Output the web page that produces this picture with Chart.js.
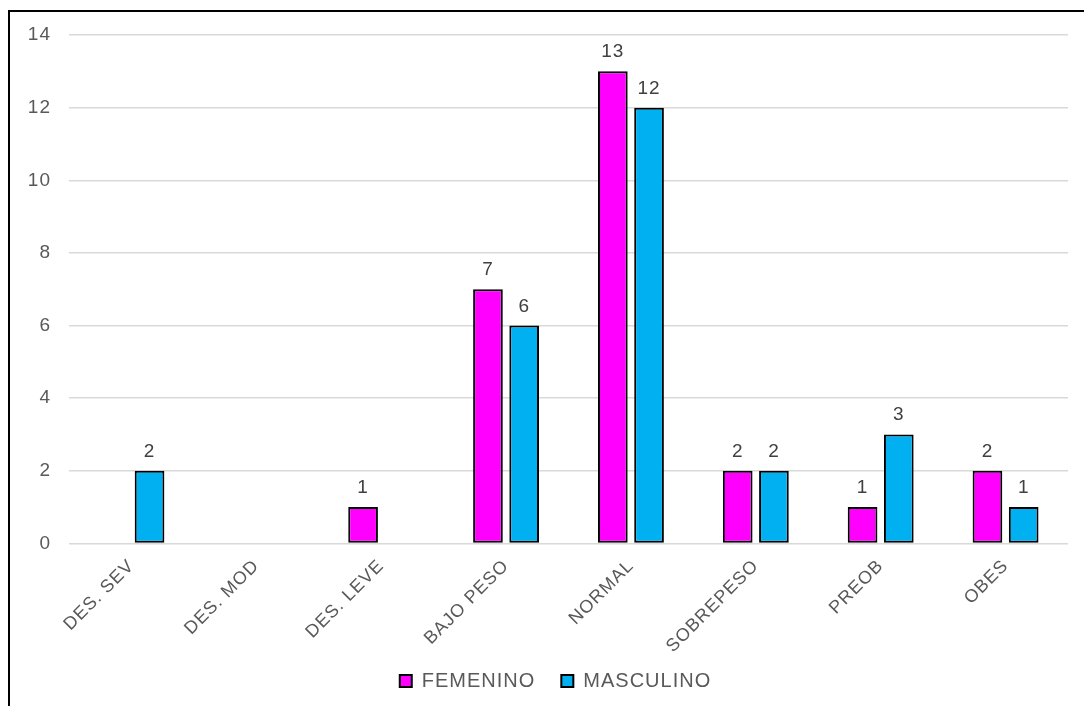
<!DOCTYPE html>
<html>
<head>
<meta charset="utf-8">
<script src="https://cdn.jsdelivr.net/npm/chart.js@4"></script>
<style>
    html, body { margin: 0; padding: 0; background: #fff; overflow: hidden; }
    #frame { position: absolute; left: 8px; top: 10px; width: 1200px; height: 800px;
             border-top: 2px solid #000; border-left: 2px solid #000; }
    #wrap { position: absolute; left: 0; top: 0; width: 1084px; height: 706px; }
</style>
</head>
<body>
<div id="frame"></div>
<div id="wrap"><canvas id="imcChart"></canvas></div>
<script>
// Categorías de estado nutricional y conteos por sexo
const categorias = ['DES. SEV', 'DES. MOD', 'DES. LEVE', 'BAJO PESO', 'NORMAL', 'SOBREPESO', 'PREOB', 'OBES']
const femenino = [null, null, 1, 7, 13, 2, 1, 2]
const masculino = [2, null, null, 6, 12, 2, 3, 1]
const ticksY = [0, 2, 4, 6, 8, 10, 12, 14]

const fuente = "'Liberation Sans', Arial, sans-serif"

// Un poco de espaciado entre letras en todos los textos del gráfico
const espaciado = {
    id: 'espaciado',
    beforeUpdate(chart) { chart.ctx.letterSpacing = '1px' },
    beforeDraw(chart) { chart.ctx.letterSpacing = '1px' }
}

// Acerca la leyenda al eje y la corre un poco a la derecha
const moverLeyenda = {
    id: 'moverLeyenda',
    afterLayout(chart) {
        const lg = chart.legend
        lg.top -= 16
        lg.bottom -= 16
        lg.left += 12
        lg.right += 12
    }
}

// Etiquetas de valor encima de cada barra
const etiquetasValor = {
    id: 'etiquetasValor',
    afterDatasetsDraw(chart) {
        const ctx = chart.ctx
        ctx.save()
        ctx.font = '19px ' + fuente
        ctx.fillStyle = '#404040'
        ctx.textAlign = 'center'
        ctx.textBaseline = 'alphabetic'
        chart.data.datasets.forEach((ds, i) => {
            const meta = chart.getDatasetMeta(i)
            meta.data.forEach((bar, j) => {
                const v = ds.data[j]
                if (v === null || v === undefined) return
                ctx.fillText(String(v), bar.x, bar.y - 14)
            })
        })
        ctx.restore()
    }
}

new Chart(document.getElementById('imcChart'), {
    type: 'bar',
    data: {
        labels: categorias,
        datasets: [
            {
                label: 'FEMENINO',
                data: femenino,
                backgroundColor: '#FF00FF',
                borderColor: '#000000',
                borderWidth: 2,
                borderSkipped: false,
                categoryPercentage: 0.58,
                barPercentage: 0.82
            },
            {
                label: 'MASCULINO',
                data: masculino,
                backgroundColor: '#00B0F0',
                borderColor: '#000000',
                borderWidth: 2,
                borderSkipped: false,
                categoryPercentage: 0.58,
                barPercentage: 0.82
            }
        ]
    },
    options: {
        responsive: true,
        maintainAspectRatio: false,
        animation: false,
        layout: {
            padding: { left: 19, right: 16, top: 35, bottom: -11 }
        },
        scales: {
            x: {
                grid: { display: false },
                border: { display: false },
                ticks: {
                    color: '#595959',
                    font: { family: fuente, size: 18 },
                    minRotation: 45,
                    maxRotation: 45,
                    padding: 4
                }
            },
            y: {
                min: 0,
                max: 14,
                afterFit(axis) { axis.width = 50 },
                afterBuildTicks(axis) { axis.ticks = ticksY.map((v) => ({ value: v })) },
                grid: { color: '#D9D9D9', lineWidth: 1.5, drawTicks: false },
                border: { display: false },
                ticks: {
                    color: '#595959',
                    font: { family: fuente, size: 19 },
                    padding: 18
                }
            }
        },
        plugins: {
            legend: {
                position: 'bottom',
                labels: {
                    color: '#595959',
                    font: { family: fuente, size: 20 },
                    boxWidth: 12,
                    boxHeight: 12,
                    padding: 26
                }
            },
            tooltip: { enabled: false }
        }
    },
    plugins: [espaciado, moverLeyenda, etiquetasValor]
})
</script>
</body>
</html>
